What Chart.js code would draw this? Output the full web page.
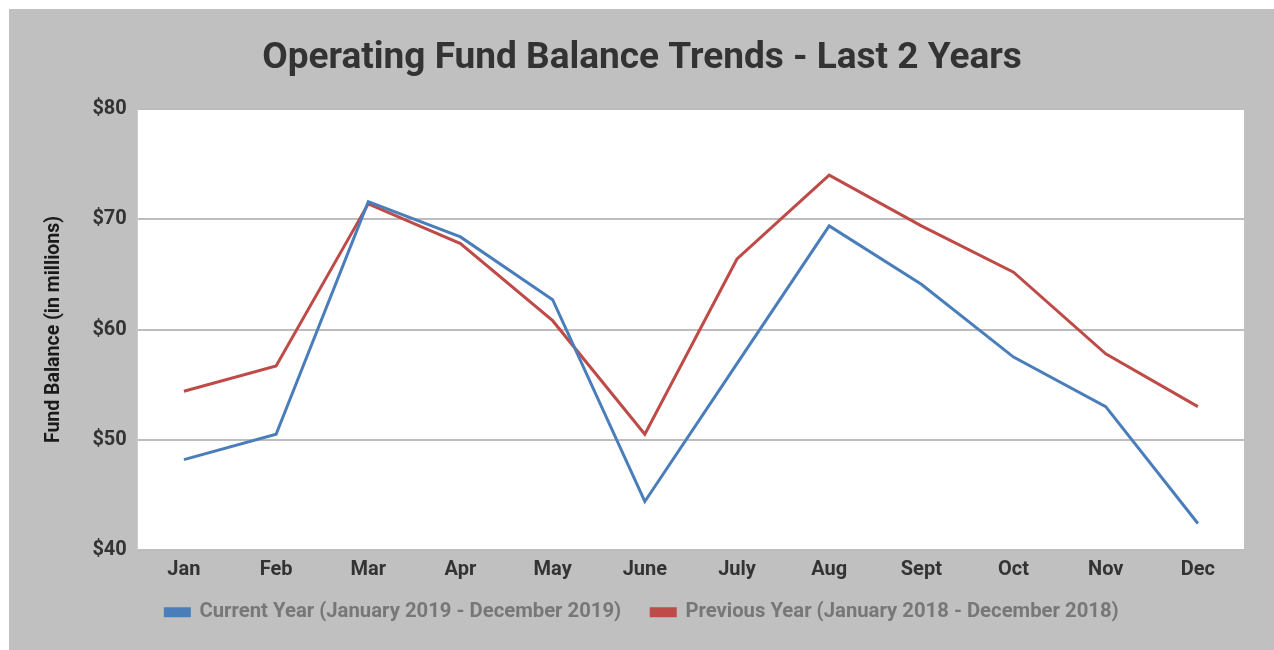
<!DOCTYPE html>
<html>
<head>
<meta charset="utf-8">
<script src="https://cdn.jsdelivr.net/npm/chart.js@4/dist/chart.umd.min.js"></script>
<style>
  html, body { margin: 0; padding: 0; background: #fff; }
  #wrap { position: absolute; left: 9px; top: 9px; width: 1265px; height: 641px; background: #c0c0c0; }
</style>
</head>
<body>
<div id="wrap"><canvas id="fundChart"></canvas></div>
<script>
// months on the x axis
const months = ['Jan', 'Feb', 'Mar', 'Apr', 'May', 'June', 'July', 'Aug', 'Sept', 'Oct', 'Nov', 'Dec'];
// fund balance in millions
const currentYear = [48.2, 50.5, 71.6, 68.4, 62.7, 44.4, 56.9, 69.4, 64.1, 57.5, 53.0, 42.4];
const previousYear = [54.4, 56.7, 71.4, 67.8, 60.8, 50.5, 66.4, 74.0, 69.4, 65.2, 57.8, 53.0];

const currentLabel = 'Current Year (January 2019 - December 2019)';
const previousLabel = 'Previous Year (January 2018 - December 2018)';

// white plot area on grey page
const plotBg = {
  id: 'plotBg',
  beforeDraw(chart) {
    const { ctx, chartArea: a } = chart;
    ctx.save();
    ctx.fillStyle = '#ffffff';
    ctx.fillRect(a.left, a.top, a.right - a.left, a.bottom - a.top);
    ctx.restore();
  }
};

// wide gap between legend items but keep the legend short
const legendHeight = {
  id: 'legendHeight',
  afterInit(chart) {
    const fit = chart.legend.fit;
    chart.legend.fit = function () {
      fit.call(this);
      this.height = 60;
    };
  },
  afterLayout(chart) {
    chart.legend.top -= 18;
    chart.legend.bottom -= 18;
  }
};

Chart.defaults.font.family = 'Roboto, "Liberation Sans", sans-serif';
Chart.defaults.font.weight = 'bold';

new Chart(document.getElementById('fundChart'), {
  type: 'line',
  data: {
    labels: months,
    datasets: [
      {
        label: currentLabel,
        data: currentYear,
        borderColor: '#4a7ebb',
        backgroundColor: '#4a7ebb',
        borderWidth: 3,
        pointRadius: 0,
        tension: 0
      },
      {
        label: previousLabel,
        data: previousYear,
        borderColor: '#be4b48',
        backgroundColor: '#be4b48',
        borderWidth: 3,
        pointRadius: 0,
        tension: 0
      }
    ]
  },
  options: {
    responsive: true,
    maintainAspectRatio: false,
    animation: false,
    layout: { padding: { left: 31, right: 30, top: 0, bottom: 0 } },
    plugins: {
      title: {
        display: true,
        text: 'Operating Fund Balance Trends - Last 2 Years',
        color: '#333333',
        font: { size: 37, weight: 'bold' },
        padding: { top: 28, bottom: 27.6 }
      },
      legend: {
        position: 'bottom',
        labels: {
          color: '#777777',
          font: { size: 20.3, weight: 'bold' },
          boxWidth: 24,
          boxHeight: 7,
          padding: 30
        }
      },
      tooltip: { enabled: false }
    },
    scales: {
      x: {
        offset: true,
        grid: { display: false, drawTicks: false },
        border: { display: false },
        ticks: { color: '#333333', font: { size: 20, weight: 'bold' }, padding: 8 }
      },
      y: {
        min: 40,
        max: 80,
        grid: { color: '#bdbdbd', lineWidth: 2, drawTicks: false },
        border: { display: false },
        ticks: {
          stepSize: 10,
          color: '#333333',
          font: { size: 20, weight: 'bold' },
          padding: 11,
          callback: v => '$' + v
        },
        title: {
          display: true,
          text: 'Fund Balance (in millions)',
          color: '#1a1a1a',
          font: { size: 19.5, weight: 'bold' },
          padding: { top: 2, bottom: 16 }
        }
      }
    }
  },
  plugins: [plotBg, legendHeight]
});
</script>
</body>
</html>
